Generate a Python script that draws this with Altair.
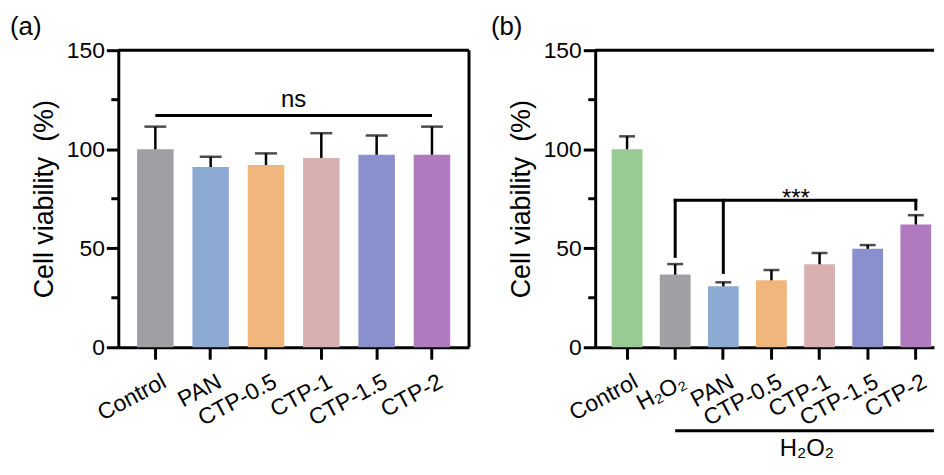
import altair as alt
import pandas as pd

FONT = "Liberation Sans"

# ---------------- data: panel (a) ----------------
cats_a = ["Control", "PAN", "CTP-0.5", "CTP-1", "CTP-1.5", "CTP-2"]
mean_a = [100.0, 91.0, 92.0, 95.6, 97.2, 97.2]
upper_a = [111.4, 96.2, 97.9, 108.1, 106.9, 111.4]
palette_a = ["#A0A0A4", "#8CAAD2", "#F0B67C", "#D8B0B2", "#8A90CE", "#B07ABE"]
ns_from, ns_to = "Control", "CTP-2"
ns_level = 117.0
ns_label_level = 121.3
ns_label = "ns"

# ---------------- data: panel (b) ----------------
cats_b = ["Control", "H\u2082O\u2082", "PAN", "CTP-0.5", "CTP-1", "CTP-1.5", "CTP-2"]
mean_b = [100.0, 36.7, 30.8, 33.8, 41.9, 49.7, 62.0]
upper_b = [106.5, 42.0, 32.8, 39.0, 47.6, 51.6, 66.7]
palette_b = ["#98CA94", "#A0A0A4", "#8CAAD2", "#F0B67C", "#D8B0B2", "#8A90CE", "#B07ABE"]
sig_level = 74.2
sig_leg_cats = ["H\u2082O\u2082", "PAN", "CTP-2"]
sig_leg_bottoms = [45.9, 37.8, 69.8]
sig_label_level = 71.4
sig_label = "***"
group_label = "H\u2082O\u2082"
group_start = "H\u2082O\u2082"

y_ticks = [0, 50, 100, 150]
y_minor = [25, 75, 125]
y_title = "Cell viability\u00a0 (%)"

H = 299

X_AXIS = alt.Axis(labelAngle=-28, labelFontSize=23, labelColor="black", labelFont=FONT,
                  tickSize=12, tickWidth=3, tickColor="black", domainWidth=3,
                  domainColor="black", labelPadding=11, labelOffset=4, grid=False,
                  title=None)
Y_AXIS = alt.Axis(values=y_ticks, tickSize=12, tickWidth=3, tickColor="black",
                  domainWidth=3, domainColor="black", labelFontSize=23, labelColor="black",
                  labelFont=FONT, labelPadding=2, titleFontSize=27, titleFontWeight="normal",
                  titleColor="black", titleFont=FONT, titlePadding=8, grid=False,
                  title=y_title)

one = pd.DataFrame({"k": [0]})


def panel(cats, means, uppers, palette, W, pin, pout, align, cap, letter, letter_x):
    df = pd.DataFrame({"cat": cats, "mean": means, "upper": uppers})
    xs = alt.Scale(domain=cats, paddingInner=pin, paddingOuter=pout, align=align)
    ys = alt.Scale(domain=[0, 150], nice=False, zero=True)

    def X(f):
        return alt.X(f, scale=xs, axis=X_AXIS, sort=None, title=None)

    def Y(f):
        return alt.Y(f, scale=ys, axis=Y_AXIS, title=y_title)

    base = alt.Chart(df)
    bars = base.mark_bar().encode(
        x=X("cat:N"), y=Y("mean:Q"),
        color=alt.Color("cat:N", scale=alt.Scale(domain=cats, range=palette), legend=None),
    )
    whisk = base.mark_rule(color="black", strokeWidth=2.5).encode(
        x=X("cat:N"), y=Y("mean:Q"), y2="upper:Q",
    )
    caps = base.mark_tick(color="black", thickness=2.5, size=cap).encode(
        x=X("cat:N"), y=Y("upper:Q"),
    )
    minor = alt.Chart(pd.DataFrame({"v": y_minor})).mark_rule(color="black", strokeWidth=3).encode(
        y=Y("v:Q"), x=alt.value(-7), x2=alt.value(0)
    )
    top = alt.Chart(one).mark_rule(color="black", strokeWidth=3).encode(
        x=alt.value(0), x2=alt.value(W), y=alt.value(0)
    )
    lab = alt.Chart(one).mark_text(text=letter, fontSize=26, font=FONT, align="left",
                                   baseline="alphabetic", color="black").encode(
        x=alt.value(letter_x), y=alt.value(-15)
    )
    return X, Y, [bars, whisk, caps, minor, top, lab]


# ---- panel a ----
Wa = 353
Xa, Ya, layers_a = panel(cats_a, mean_a, upper_a, palette_a, Wa, 0.34, 0.34, 0.5, 22, "(a)", -109)
right_a = alt.Chart(one).mark_rule(color="black", strokeWidth=3).encode(
    x=alt.value(Wa), y=alt.value(0), y2=alt.value(H)
)
ns_line = alt.Chart(pd.DataFrame({"a": [ns_from], "b": [ns_to], "y": [ns_level]})).mark_rule(
    color="black", strokeWidth=3).encode(
    x=Xa("a:N"), x2="b:N", y=Ya("y:Q")
)
ns_text = alt.Chart(pd.DataFrame({"t": [ns_label], "y": [ns_label_level]})).mark_text(
    fontSize=24, font=FONT, baseline="alphabetic", align="center", color="black").encode(
    text="t:N", x=alt.value(Wa / 2), y=Ya("y:Q")
)
panel_a = alt.layer(*layers_a, right_a, ns_line, ns_text).properties(width=Wa, height=H)

# ---- panel b ----
Wb = 341
Xb, Yb, layers_b = panel(cats_b, mean_b, upper_b, palette_b, Wb, 0.36, 0.2, 0.855, 16, "(b)", -105)
br_h = alt.Chart(pd.DataFrame({"a": [sig_leg_cats[0]], "b": [sig_leg_cats[-1]], "y": [sig_level]})).mark_rule(
    color="black", strokeWidth=3, strokeCap="square").encode(
    x=Xb("a:N"), x2="b:N", y=Yb("y:Q")
)
br_v = alt.Chart(pd.DataFrame({"cat": sig_leg_cats, "top": [sig_level] * 3,
                               "bot": sig_leg_bottoms})).mark_rule(
    color="black", strokeWidth=3, strokeCap="square").encode(
    x=Xb("cat:N"), y=Yb("top:Q"), y2="bot:Q"
)
sig_text = alt.Chart(pd.DataFrame({"t": [sig_label], "y": [sig_label_level]})).mark_text(
    fontSize=24, font=FONT, baseline="alphabetic", align="center", color="black").encode(
    text="t:N", x=alt.value(202), y=Yb("y:Q")
)
under = alt.Chart(pd.DataFrame({"a": [group_start]})).mark_rule(color="black", strokeWidth=3).encode(
    x=Xb("a:N"), x2=alt.value(Wb), y=alt.value(383)
)
under_text = alt.Chart(pd.DataFrame({"t": [group_label]})).mark_text(
    fontSize=24, font=FONT, baseline="alphabetic", align="center", color="black").encode(
    text="t:N", x=alt.value(213), y=alt.value(408)
)
panel_b = alt.layer(*layers_b, br_h, br_v, sig_text, under, under_text).properties(width=Wb, height=H)

chart = alt.hconcat(panel_a, panel_b, spacing=20).resolve_scale(
    color="independent", x="independent", y="independent"
).configure(
    font=FONT, padding={"left": 2, "top": 5, "right": 0, "bottom": 0}
).configure_view(stroke=None)

chart.save("out.html", embed_options={"renderer": "svg", "actions": False})
